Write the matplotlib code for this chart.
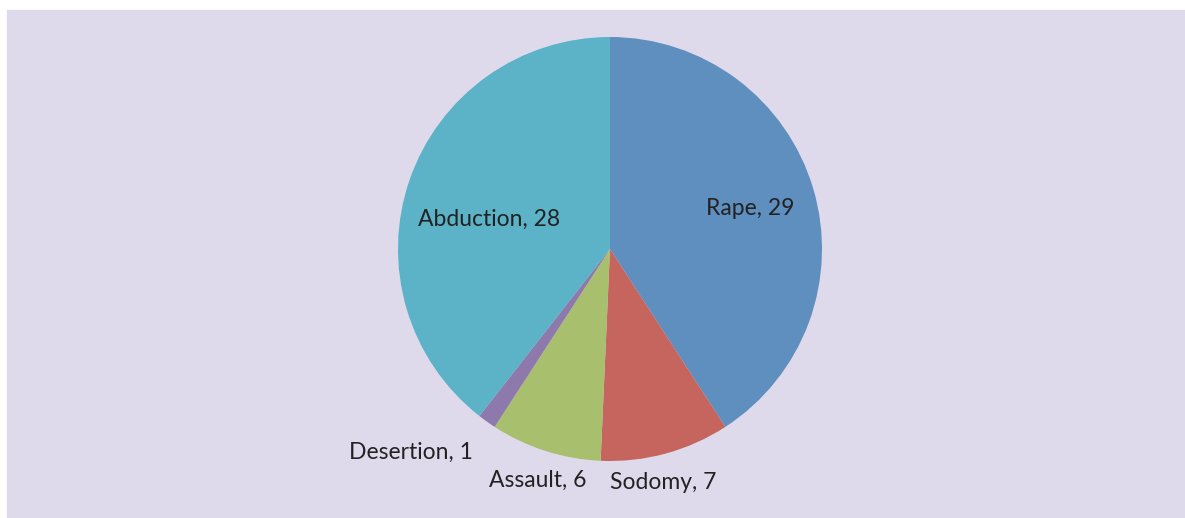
import matplotlib.pyplot as plt
from matplotlib.patches import Rectangle

# offence counts, clockwise from 12 o'clock
categories = ["Rape", "Sodomy", "Assault", "Desertion", "Abduction"]
counts = [29, 7, 6, 1, 28]
colors = ["#5E8FBF", "#C6645E", "#A8BF6D", "#8E79AC", "#5CB2C7"]

# label anchor points in pie-radius units
label_pos = [(0.66, 0.19), (0.25, -1.10), (-0.34, -1.09), (-0.94, -0.96), (-0.57, 0.14)]

W, H = 1185, 518
fig = plt.figure(figsize=(W / 100, H / 100), dpi=100)
fig.patches.append(Rectangle((7 / W, 0), 1, (H - 10) / H,
                             transform=fig.transFigure, color="#DEDAEB", zorder=-10))

cx, cy, r = 610, H - 249, 212
ax = fig.add_axes([(cx - r) / W, (cy - r) / H, 2 * r / W, 2 * r / H])
ax.set_zorder(5)
ax.pie(counts, colors=colors, startangle=90, counterclock=False, radius=1,
       wedgeprops=dict(linewidth=0))
ax.set_xlim(-1, 1)
ax.set_ylim(-1, 1)
ax.set_aspect("auto")
ax.axis("off")

for name, n, (x, y) in zip(categories, counts, label_pos):
    ax.text(x, y, f"{name}, {n}", ha="center", va="center", fontsize=16.5,
            family="Lato", color="#222222", clip_on=False)

fig.savefig("out.png", dpi=100)
